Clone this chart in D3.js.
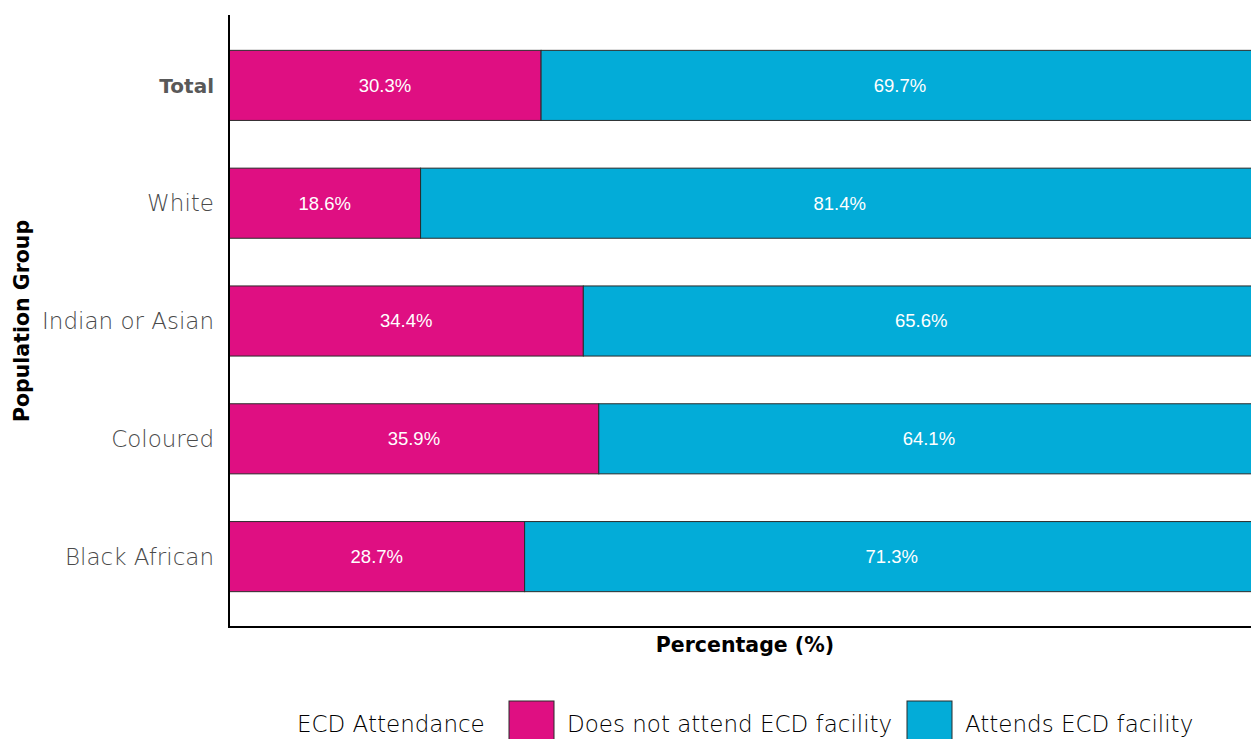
<!DOCTYPE html>
<html>
<head>
<meta charset="utf-8">
<script src="https://cdn.jsdelivr.net/npm/d3@7"></script>
<style>
  html, body { margin: 0; padding: 0; background: #fff; overflow: hidden; }
  svg { display: block; }
</style>
</head>
<body>
<svg id="chart" width="1251" height="739"></svg>
<script>
// Population groups, top to bottom
const groups = ["Total", "White", "Indian or Asian", "Coloured", "Black African"];
// Share of children not attending / attending an ECD facility (%)
const notAttend = [30.3, 18.6, 34.4, 35.9, 28.7];
const attends   = [69.7, 81.4, 65.6, 64.1, 71.3];
const seriesNames = ["Does not attend ECD facility", "Attends ECD facility"];
const seriesColors = ["#df0f82", "#03acd8"];

const textFont = "'DejaVu Sans', sans-serif";

const svg = d3.select("#chart");
const margin = { left: 229, top: 15, bottom: 112 };
const plotW = 1030;
const plotH = 739 - margin.top - margin.bottom;

const x = d3.scaleLinear().domain([0, 100]).range([margin.left, margin.left + plotW]);
const y = d3.scaleBand().domain(groups)
  .range([margin.top, margin.top + plotH])
  .paddingInner(0.405).paddingOuter(0.3);

const rows = groups.map((g, i) => ({ group: g, values: [notAttend[i], attends[i]] }));
const stacked = d3.stack().keys([0, 1]).value((d, k) => d.values[k])(rows);

const layer = svg.append("g").selectAll("g").data(stacked).join("g")
  .attr("fill", (d, i) => seriesColors[i]);

layer.selectAll("rect").data(d => d).join("rect")
  .attr("x", d => x(d[0]))
  .attr("y", d => y(d.data.group))
  .attr("width", d => x(d[1]) - x(d[0]))
  .attr("height", y.bandwidth())
  .attr("stroke", "#2b2b2b")
  .attr("stroke-width", 1);

layer.selectAll("text").data(d => d).join("text")
  .attr("x", d => (x(d[0]) + x(d[1])) / 2)
  .attr("y", d => y(d.data.group) + y.bandwidth() / 2)
  .attr("dy", "0.35em")
  .attr("text-anchor", "middle")
  .attr("fill", "#fff")
  .attr("font-family", "'Liberation Sans', Arial, sans-serif")
  .attr("font-size", 18.5)
  .text(d => (d[1] - d[0]).toFixed(1) + "%");

// Category labels
svg.append("g").selectAll("text").data(groups).join("text")
  .attr("x", margin.left - 15)
  .attr("y", d => y(d) + y.bandwidth() / 2)
  .attr("dy", "0.36em")
  .attr("text-anchor", "end")
  .attr("font-family", textFont)
  .attr("font-size", d => d === "Total" ? 20 : 23)
  .attr("font-weight", d => d === "Total" ? "bold" : 200)
  .attr("fill", d => d === "Total" ? "#595959" : "#4a4a4a")
  .text(d => d);

// Axis lines
const axisG = svg.append("g").attr("stroke", "#000").attr("stroke-width", 2);
axisG.append("line")
  .attr("x1", margin.left).attr("x2", margin.left)
  .attr("y1", margin.top).attr("y2", margin.top + plotH);
axisG.append("line")
  .attr("x1", margin.left - 1).attr("x2", 1251)
  .attr("y1", margin.top + plotH).attr("y2", margin.top + plotH);

// Axis titles
svg.append("text")
  .attr("x", 745).attr("y", 652)
  .attr("text-anchor", "middle")
  .attr("font-family", textFont)
  .attr("font-weight", "bold").attr("font-size", 20.5)
  .text("Percentage (%)");

svg.append("text")
  .attr("transform", "translate(29,321) rotate(-90)")
  .attr("text-anchor", "middle")
  .attr("font-family", textFont)
  .attr("font-weight", "bold").attr("font-size", 20.5)
  .text("Population Group");

// Legend
const legend = svg.append("g").attr("font-family", textFont)
  .attr("font-size", 23).attr("font-weight", 200).attr("fill", "#000");
legend.append("text").attr("x", 297).attr("y", 732).text("ECD Attendance");
const keyX = [509, 907];
seriesNames.forEach((name, i) => {
  legend.append("rect")
    .attr("x", keyX[i]).attr("y", 701).attr("width", 45).attr("height", 45)
    .attr("fill", seriesColors[i]).attr("stroke", "#2b2b2b").attr("stroke-width", 1);
  legend.append("text").attr("x", keyX[i] + 58).attr("y", 732).text(name);
});
</script>
</body>
</html>
